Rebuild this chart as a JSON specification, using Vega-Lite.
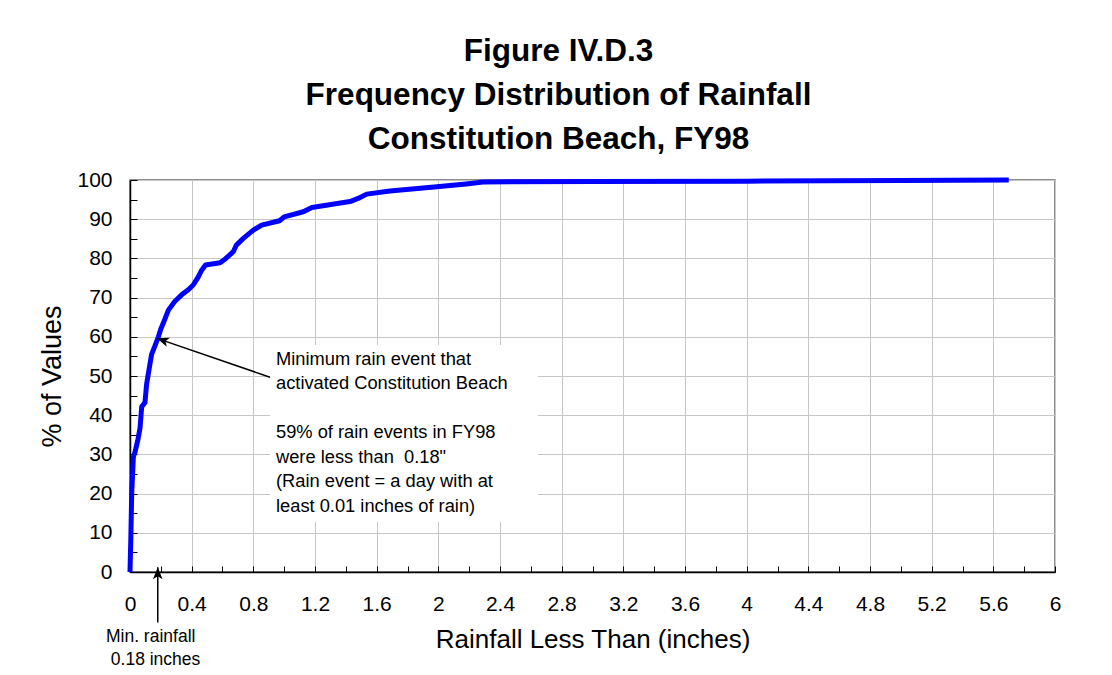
{
  "$schema": "https://vega.github.io/schema/vega-lite/v6.json",
  "autosize": "none",
  "width": 925,
  "height": 392,
  "padding": {"left": 130, "top": 180, "right": 57, "bottom": 103},
  "background": "white",
  "config": {
    "font": "Liberation Sans",
    "view": {"stroke": "#6a6a6a", "strokeWidth": 1.5}
  },
  "title": {
    "text": ["Figure IV.D.3", "Frequency Distribution of Rainfall", "Constitution Beach, FY98"],
    "fontSize": 31.5,
    "fontWeight": "bold",
    "color": "black",
    "lineHeight": 44,
    "anchor": "middle",
    "dx": -34,
    "offset": 14
  },
  "datasets": {
    "curve": [
      {"x": 0, "y": 0},
      {"x": 0.005, "y": 8},
      {"x": 0.011, "y": 20},
      {"x": 0.022, "y": 29.4},
      {"x": 0.032, "y": 30.5},
      {"x": 0.05, "y": 33.5},
      {"x": 0.065, "y": 36.7},
      {"x": 0.076, "y": 42.2},
      {"x": 0.097, "y": 43.2},
      {"x": 0.108, "y": 48},
      {"x": 0.125, "y": 52},
      {"x": 0.14, "y": 55.5},
      {"x": 0.16, "y": 57.5},
      {"x": 0.184, "y": 60},
      {"x": 0.2, "y": 62},
      {"x": 0.216, "y": 63.5},
      {"x": 0.249, "y": 66.8},
      {"x": 0.29, "y": 69},
      {"x": 0.335, "y": 70.7},
      {"x": 0.378, "y": 72},
      {"x": 0.41, "y": 73.2},
      {"x": 0.443, "y": 75.3},
      {"x": 0.465, "y": 77},
      {"x": 0.49, "y": 78.3},
      {"x": 0.584, "y": 78.9},
      {"x": 0.616, "y": 79.8},
      {"x": 0.67, "y": 81.7},
      {"x": 0.69, "y": 83.4},
      {"x": 0.735, "y": 85.1},
      {"x": 0.8, "y": 87.2},
      {"x": 0.854, "y": 88.5},
      {"x": 0.95, "y": 89.4},
      {"x": 0.97, "y": 89.6},
      {"x": 1.0, "y": 90.6},
      {"x": 1.124, "y": 91.9},
      {"x": 1.18, "y": 93.0},
      {"x": 1.427, "y": 94.5},
      {"x": 1.48, "y": 95.3},
      {"x": 1.535, "y": 96.4},
      {"x": 1.686, "y": 97.2},
      {"x": 1.99, "y": 98.3},
      {"x": 2.18, "y": 99.0},
      {"x": 2.29, "y": 99.5},
      {"x": 3.0, "y": 99.6},
      {"x": 4.0, "y": 99.7},
      {"x": 5.0, "y": 99.85},
      {"x": 5.7, "y": 100}
    ],
    "box": [
      {"x": 0.908, "x2": 2.646, "y": 57.9, "y2": 12.8}
    ],
    "arrows": [
      {"id": "a", "x": 0.908, "y": 49.7, "x2": 0.175, "y2": 59.6},
      {"id": "b", "x": 0.18, "y": -12.9, "x2": 0.18, "y2": 1.2}
    ],
    "tips": [
      {"id": "a", "x": 0.175, "y": 59.6},
      {"id": "b", "x": 0.18, "y": 1.2}
    ],
    "notes": [
      {"id": "main", "x": 0.947, "y": 52.8, "text": "Minimum rain event that\nactivated Constitution Beach"},
      {"id": "main", "x": 0.947, "y": 34.1, "text": "59% of rain events in FY98\nwere less than \u00a00.18\"\n(Rain event = a day with at\nleast 0.01 inches of rain)"},
      {"id": "min", "x": -0.156, "y": -17.9, "text": "Min. rainfall\n\u200b\u00a00.18 inches"}
    ]
  },
  "encoding": {
    "x": {
      "field": "x",
      "type": "quantitative",
      "scale": {"domain": [0, 6], "nice": false, "zero": false},
      "axis": {
        "values": [0, 0.2, 0.4, 0.6, 0.8, 1, 1.2, 1.4, 1.6, 1.8, 2, 2.2, 2.4, 2.6, 2.8, 3, 3.2, 3.4, 3.6, 3.8, 4, 4.2, 4.4, 4.6, 4.8, 5, 5.2, 5.4, 5.6, 5.8, 6],
        "format": "~g",
        "labelExpr": "abs(round(datum.value*10)) % 4 == 0 ? datum.label : ''",
        "labelOverlap": false,
        "labelFlush": false,
        "labelFontSize": 21,
        "labelColor": "black",
        "labelPadding": 27,
        "tickSize": -6,
        "tickColor": "black",
        "domainColor": "black",
        "domainWidth": 1.5,
        "gridColor": "#c6c6c6",
        "gridOpacity": {"condition": {"test": "abs(round(datum.value*10)) % 4 == 0", "value": 1}, "value": 0},
        "title": "Rainfall Less Than (inches)",
        "titleFontSize": 26,
        "titleFontWeight": "normal",
        "titleColor": "black",
        "titlePadding": 12
      }
    },
    "y": {
      "field": "y",
      "type": "quantitative",
      "scale": {"domain": [0, 100], "nice": false},
      "axis": {
        "values": [0, 5, 10, 15, 20, 25, 30, 35, 40, 45, 50, 55, 60, 65, 70, 75, 80, 85, 90, 95, 100],
        "format": "d",
        "labelExpr": "datum.value % 10 == 0 ? datum.label : ''",
        "labelOverlap": false,
        "labelFlush": false,
        "labelFontSize": 21,
        "labelColor": "black",
        "labelPadding": 25,
        "tickSize": -7,
        "tickColor": "black",
        "domainColor": "black",
        "domainWidth": 1.5,
        "gridColor": "#c6c6c6",
        "gridOpacity": {"condition": {"test": "datum.value % 10 == 0", "value": 1}, "value": 0},
        "title": "% of Values",
        "titleFontSize": 27,
        "titleFontWeight": "normal",
        "titleColor": "black",
        "titlePadding": 10
      }
    }
  },
  "layer": [
    {
      "data": {"name": "box"},
      "mark": {"type": "rect", "fill": "white", "stroke": null},
      "encoding": {"x2": {"field": "x2"}, "y2": {"field": "y2"}}
    },
    {
      "data": {"name": "curve"},
      "mark": {"type": "line", "color": "#0000ff", "strokeWidth": 5, "strokeJoin": "round"}
    },
    {
      "data": {"name": "arrows"},
      "mark": {"type": "rule", "color": "black", "strokeWidth": 1.5},
      "encoding": {"x2": {"field": "x2"}, "y2": {"field": "y2"}}
    },
    {
      "data": {"name": "tips"},
      "transform": [{"filter": "datum.id == 'a'"}],
      "mark": {"type": "point", "shape": "M0,0L-0.8,2L0,1.5L0.8,2Z", "size": 144, "angle": 289, "filled": true, "color": "black", "opacity": 1}
    },
    {
      "data": {"name": "tips"},
      "transform": [{"filter": "datum.id == 'b'"}],
      "mark": {"type": "point", "shape": "M0,0L-0.8,2L0,1.5L0.8,2Z", "size": 144, "angle": 0, "filled": true, "color": "black", "opacity": 1}
    },
    {
      "data": {"name": "notes"},
      "transform": [{"filter": "datum.id == 'main'"}],
      "mark": {"type": "text", "align": "left", "baseline": "alphabetic", "fontSize": 18.3, "lineHeight": 24.4, "lineBreak": "\n", "color": "black"},
      "encoding": {"text": {"field": "text"}}
    },
    {
      "data": {"name": "notes"},
      "transform": [{"filter": "datum.id == 'min'"}],
      "mark": {"type": "text", "align": "left", "baseline": "alphabetic", "fontSize": 17.5, "lineHeight": 23, "lineBreak": "\n", "color": "black"},
      "encoding": {"text": {"field": "text"}}
    }
  ]
}
